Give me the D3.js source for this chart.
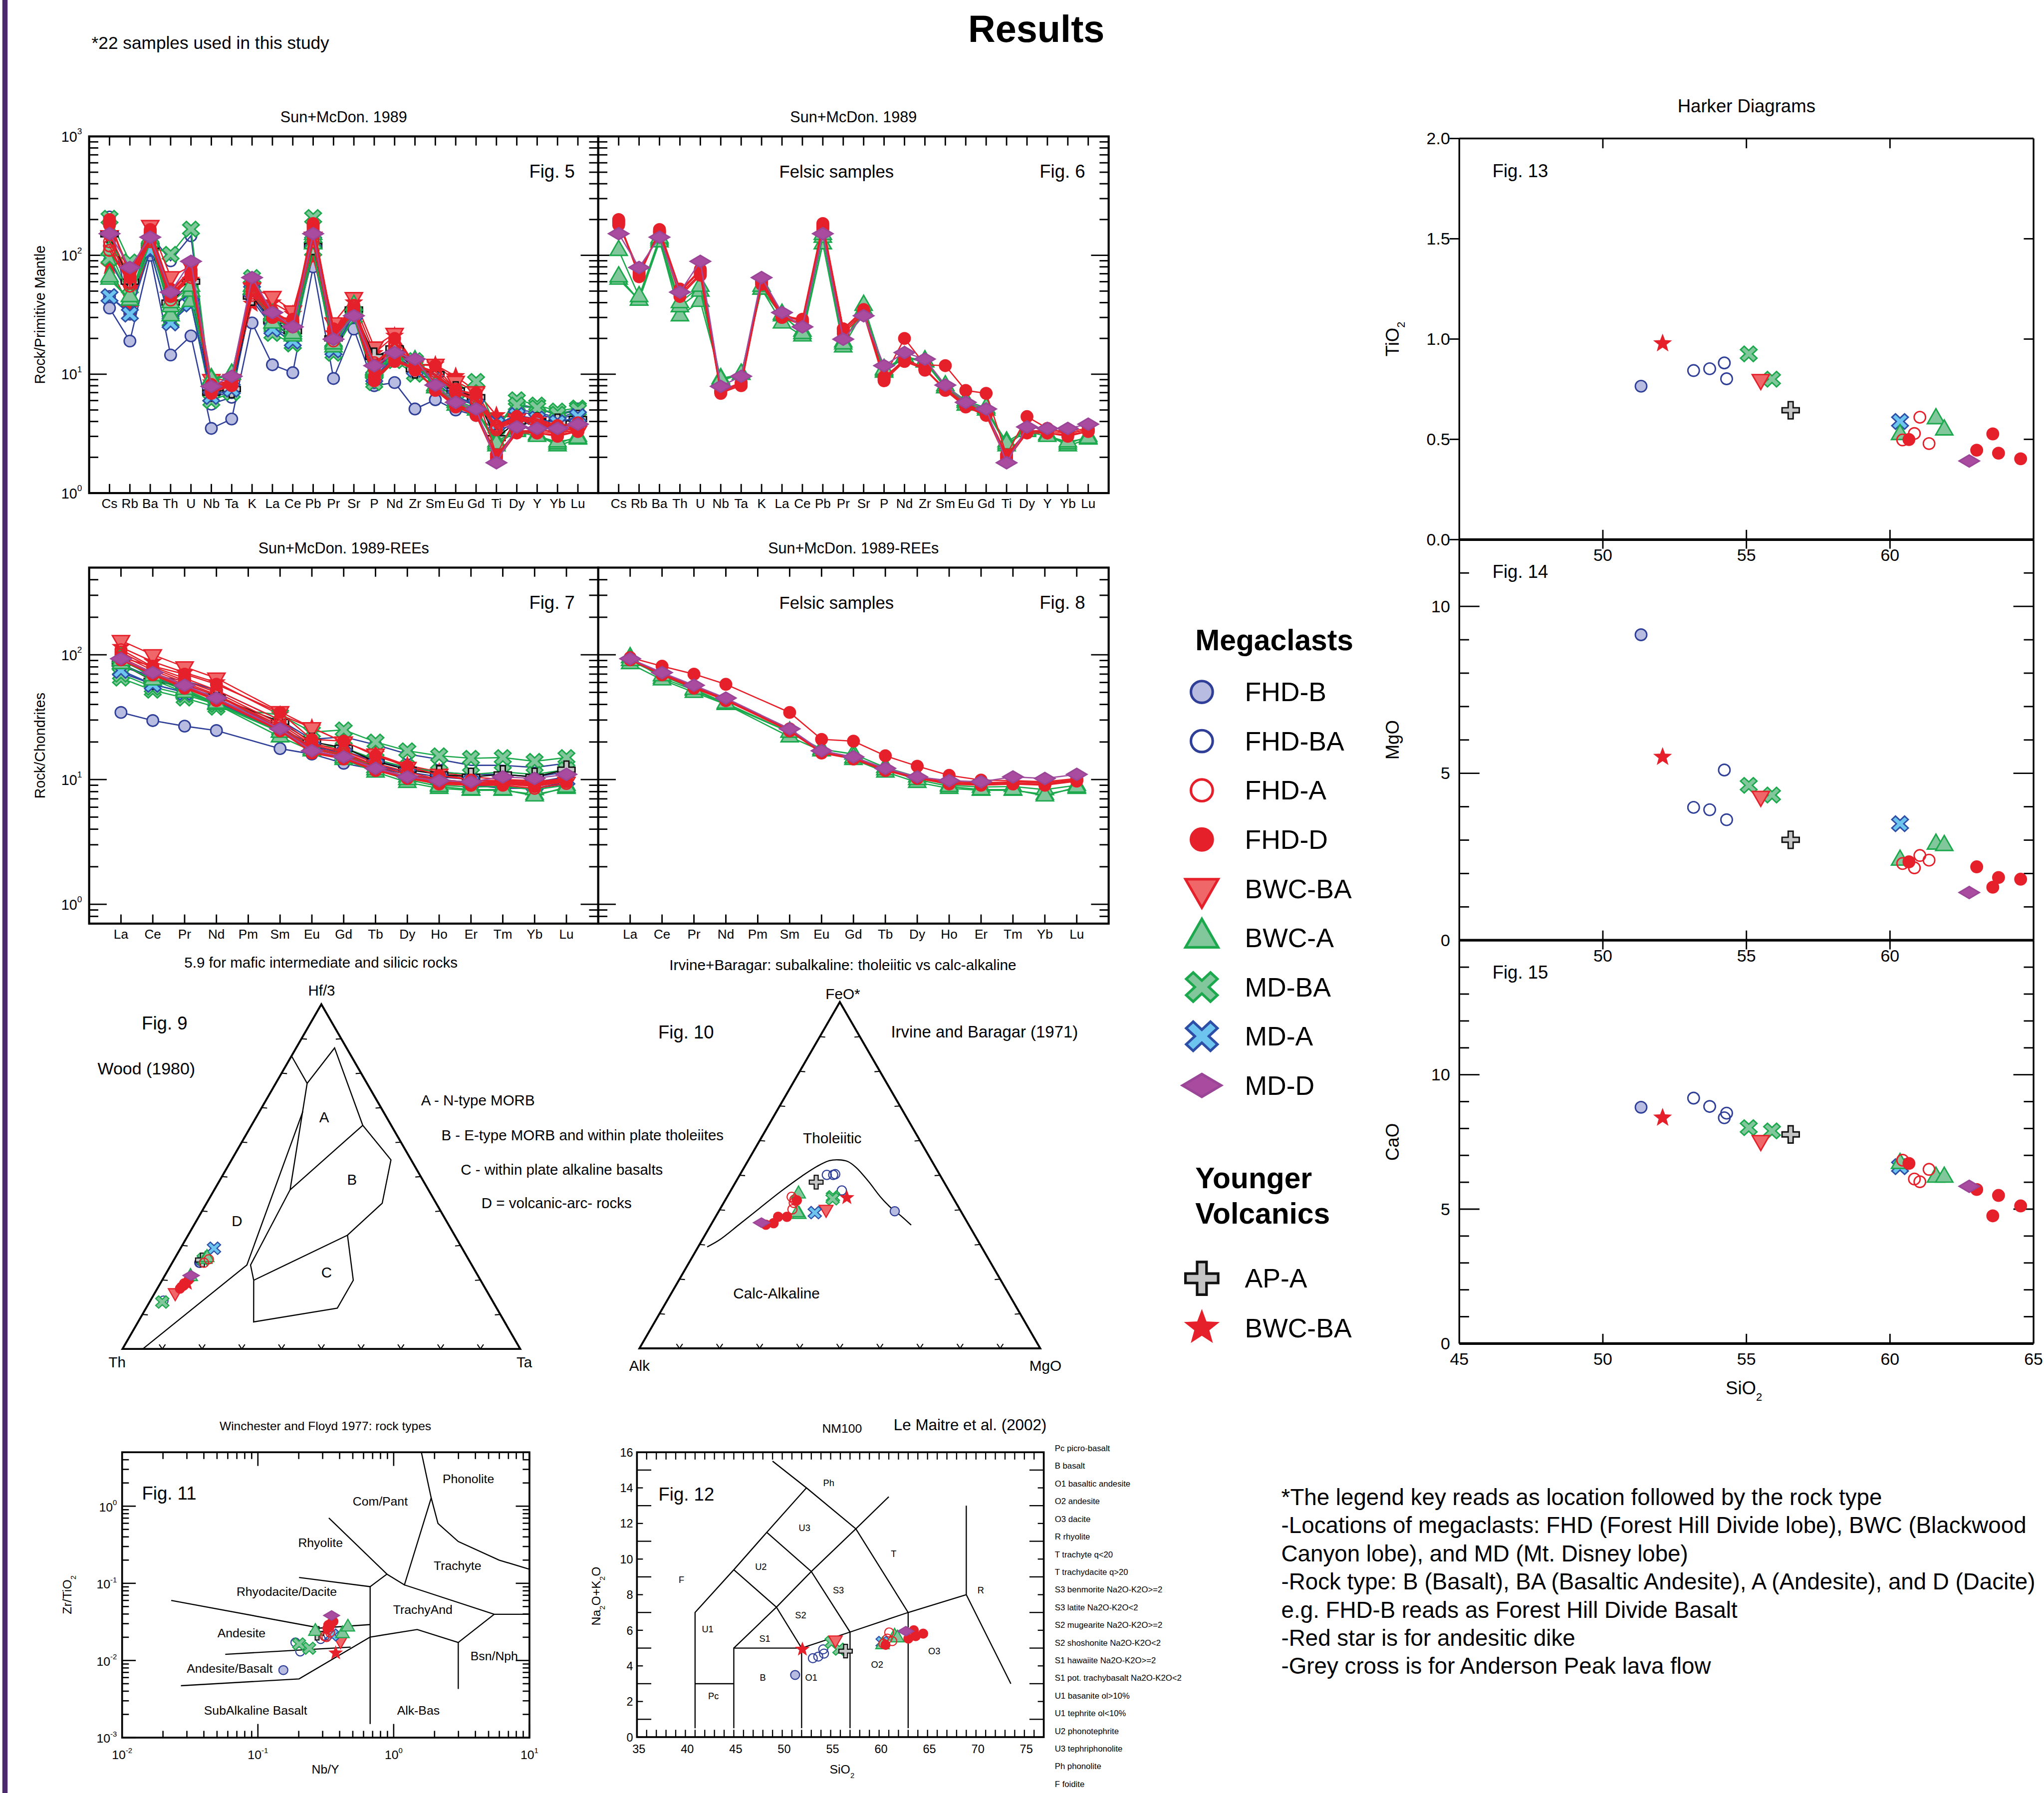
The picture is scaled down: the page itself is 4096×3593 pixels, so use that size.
<!DOCTYPE html>
<html>
<head>
<meta charset="utf-8">
<script src="https://cdn.jsdelivr.net/npm/d3@7"></script>
<style>
  html, body { margin: 0; padding: 0; background: #fff; }
  svg { display: block; }
  text { font-family: "Liberation Sans", Arial, Helvetica, sans-serif; fill: #000; }
</style>
</head>
<body>
<div id="poster"></div>
<script>
// ---------------- data ----------------
// one entry per sample (22 megaclasts + 2 younger volcanics)
const sampleType = ["FHD-B", "FHD-BA", "FHD-BA", "FHD-BA", "FHD-BA", "YV-BWC-BA", "MD-BA", "MD-BA",
  "BWC-BA", "AP-A", "MD-A", "BWC-A", "BWC-A", "BWC-A", "FHD-A", "FHD-A", "FHD-A", "FHD-A",
  "FHD-D", "FHD-D", "FHD-D", "FHD-D", "FHD-D", "MD-D"];

const sio2 = [51.33, 53.16, 53.72, 54.23, 54.31, 52.08, 55.08, 55.89, 55.5, 56.54, 60.35, 60.35, 61.6, 61.89,
  60.44, 60.85, 61.04, 61.36, 60.66, 63.02, 63.58, 63.78, 64.55, 62.76];
const tio2 = [0.765, 0.843, 0.852, 0.881, 0.802, 0.978, 0.926, 0.80, 0.798, 0.645, 0.589, 0.524, 0.603, 0.547,
  0.497, 0.529, 0.61, 0.479, 0.499, 0.446, 0.527, 0.431, 0.403, 0.392];
const mgo = [9.15, 3.98, 3.91, 5.10, 3.61, 5.49, 4.64, 4.35, 4.31, 3.01, 3.49, 2.40, 2.88, 2.84,
  2.30, 2.17, 2.54, 2.40, 2.35, 2.20, 1.59, 1.88, 1.83, 1.43];
const cao = [8.79, 9.13, 8.82, 8.40, 8.57, 8.40, 8.03, 7.91, 7.55, 7.78, 6.58, 6.70, 6.19, 6.19,
  6.82, 6.12, 6.02, 6.48, 6.70, 5.73, 4.75, 5.51, 5.12, 5.85];
const naK = [3.49, 4.43, 4.52, 4.93, 4.69, 4.93, 5.32, 4.94, 5.46, 4.83, 5.32, 5.18, 5.67, 5.57,
  5.25, 5.53, 5.88, 5.39, 5.18, 5.53, 6.0, 5.67, 5.81, 5.95];
const nbY = [0.154, 0.189, 0.205, 0.31, 0.29, 0.374, 0.201, 0.239, 0.406, 0.273, 0.352, 0.265, 0.42, 0.46,
  0.32, 0.33, 0.31, 0.34, 0.347, 0.33, 0.325, 0.36, 0.34, 0.349];
const zrTi = [0.0075, 0.0171, 0.0131, 0.021, 0.019, 0.0125, 0.0164, 0.0144, 0.018, 0.0225, 0.0214, 0.0238, 0.0222, 0.0271,
  0.0201, 0.0249, 0.0205, 0.023, 0.0306, 0.0288, 0.0262, 0.032, 0.028, 0.0383];
// Wood (1980) fractions: Hf/3 and Ta (Th = remainder)
const hfFrac = [0.25, 0.14, 0.255, 0.26, 0.25, 0.19, 0.136, 0.26, 0.163, 0.258, 0.292, 0.26, 0.265, 0.21,
  0.26, 0.25, 0.185, 0.19, 0.183, 0.18, 0.19, 0.175, 0.2, 0.213];
const taFrac = [0.07, 0.033, 0.069, 0.072, 0.068, 0.068, 0.032, 0.074, 0.051, 0.072, 0.084, 0.078, 0.08, 0.066,
  0.087, 0.08, 0.062, 0.06, 0.061, 0.058, 0.064, 0.057, 0.066, 0.066];
// AFM fractions: FeO* and MgO (Alk = remainder)
const afmFeO = [0.396, 0.501, 0.501, 0.503, 0.456, 0.435, 0.4375, 0.432, 0.4015, 0.48, 0.392, 0.4458, 0.387, 0.392,
  0.4375, 0.4296, 0.4015, 0.42, 0.4274, 0.38, 0.38, 0.3615, 0.357, 0.363];
const afmMgO = [0.439, 0.217, 0.233, 0.237, 0.277, 0.30, 0.264, 0.266, 0.265, 0.201, 0.2415, 0.174, 0.205, 0.198,
  0.161, 0.172, 0.181, 0.175, 0.179, 0.178, 0.156, 0.154, 0.137, 0.123];

const spiderElems = ["Cs", "Rb", "Ba", "Th", "U", "Nb", "Ta", "K", "La", "Ce", "Pb", "Pr", "Sr", "P", "Nd", "Zr", "Sm", "Eu", "Gd", "Ti", "Dy", "Y", "Yb", "Lu"];
const spiderVals = [
  [36, 19, 100, 14.5, 21, 3.5, 4.2, 27, 12, 10.3, 80, 9.2, 24, 8, 8.5, 5.1, 6.1, 5.0, 4.5, 3.3, 3.9, 3.8, 3.6, 3.8],
  [210, 32, 150, 90, 146, 5.6, 6.4, 45, 26, 21, 100, 17, 30, 8.5, 14, 10.5, 8.6, 6.2, 5.5, 3.6, 5.6, 5.2, 4.5, 5.0],
  [45, 33, 110, 28, 42, 6.5, 7.0, 42, 25, 20, 105, 17, 30, 10, 14.5, 11, 9, 6.5, 5.6, 3.8, 5.4, 5.2, 4.6, 5.1],
  [90, 45, 120, 35, 50, 7.0, 7.5, 45, 28, 22, 110, 18, 32, 11, 15, 11.5, 9.5, 7.0, 6.0, 4.0, 5.0, 4.8, 4.3, 4.8],
  [120, 55, 130, 40, 60, 7.5, 8.0, 50, 30, 24, 120, 19, 34, 12, 16, 12, 10, 7.0, 6.2, 4.1, 4.8, 4.6, 4.2, 4.6],
  [81, 36, 115, 46, 62, 8.5, 8.5, 39, 40, 32, 95, 22, 40, 15, 21, 12, 12, 9.6, 7.2, 4.5, 4.3, 4.0, 3.5, 3.5],
  [205, 88, 120, 102, 166, 6.5, 7.5, 65, 25, 18, 208, 16, 30, 9, 14, 13, 9, 7.0, 8.7, 3.5, 6.1, 5.5, 4.9, 5.2],
  [95, 45, 110, 28, 40, 6.0, 7.0, 55, 22, 18, 110, 15, 30, 8.5, 13, 10, 8, 6.5, 5.5, 3.6, 5.5, 5.2, 4.6, 5.0],
  [146, 54, 178, 66, 81, 9.0, 9.0, 53, 45, 34, 142, 27, 44, 16.9, 22, 12, 12.1, 8.7, 7.1, 3.7, 4.2, 3.9, 3.3, 3.3],
  [150, 60, 120, 40, 60, 7.0, 7.5, 45, 28, 23, 120, 20, 35, 14, 16.5, 11, 10, 7.3, 6.4, 2.9, 4.0, 4.0, 3.9, 4.2],
  [45, 32, 110, 27, 39, 6.5, 7.5, 50, 24, 19, 130, 16, 32, 9.5, 14, 11, 9, 6.5, 5.5, 3.8, 4.5, 4.2, 3.9, 4.4],
  [63, 42, 135, 31, 41, 9.2, 10, 52, 27, 21, 125, 17, 34, 10.4, 13.8, 12.7, 7.7, 5.8, 5.0, 2.5, 3.4, 3.1, 2.5, 2.85],
  [66, 42, 130, 37, 50, 8.8, 10, 52, 31, 23, 142, 18.7, 35, 10.7, 14, 12.7, 7.7, 5.5, 5.0, 2.7, 3.4, 3.1, 2.6, 3.0],
  [110, 45, 140, 40, 55, 9.0, 10, 55, 32, 22, 150, 18, 38, 11, 14, 13, 8, 6.0, 5.2, 2.6, 3.3, 3.0, 2.7, 2.9],
  [130, 60, 140, 45, 70, 8.0, 8.5, 48, 32, 26, 150, 20, 36, 12, 17, 12, 10, 7.2, 6.2, 3.6, 4.3, 4.1, 3.6, 3.8],
  [120, 55, 135, 50, 75, 8.0, 8.5, 50, 33, 27, 160, 21, 38, 12.5, 17, 12.5, 10, 7.0, 6.0, 3.5, 4.2, 4.0, 3.5, 3.7],
  [150, 65, 145, 48, 65, 8.2, 8.8, 52, 34, 27, 140, 21, 37, 11.5, 18, 12, 10.5, 7.5, 6.5, 3.7, 4.4, 4.2, 3.7, 3.9],
  [110, 58, 130, 42, 68, 7.8, 8.3, 46, 30, 25, 130, 19, 35, 11, 16, 11.5, 9.7, 7.0, 6.0, 3.4, 4.1, 3.9, 3.4, 3.6],
  [195, 70, 160, 49, 74, 7.1, 8.3, 60, 31, 28, 175, 24, 34, 9.2, 13, 11, 7.5, 5.5, 4.7, 2.0, 3.3, 3.3, 3.2, 3.4],
  [185, 72, 155, 47, 70, 7.0, 8.0, 58, 30, 27, 170, 23, 33, 9.0, 13.5, 11.2, 7.4, 5.4, 4.6, 2.0, 3.4, 3.2, 3.1, 3.3],
  [190, 68, 158, 50, 76, 7.2, 8.4, 62, 32, 28, 180, 24, 35, 9.4, 13.2, 10.8, 7.6, 5.6, 4.8, 2.1, 3.3, 3.4, 3.3, 3.5],
  [200, 66, 165, 52, 72, 7.3, 8.5, 61, 31, 29, 185, 24, 34, 9.5, 20, 12, 11.8, 7.3, 6.9, 2.1, 4.4, 3.5, 3.2, 3.4],
  [180, 75, 150, 45, 68, 6.9, 8.1, 57, 30, 26, 165, 22, 32, 8.8, 12.8, 11, 7.3, 5.3, 4.5, 1.9, 3.2, 3.2, 3.0, 3.3],
  [152, 79, 142, 49, 89, 7.9, 9.6, 65, 33, 25, 152, 19.7, 31, 11.8, 15.2, 13.4, 8.1, 5.8, 5.1, 1.8, 3.6, 3.5, 3.5, 3.8]
];

const reeElems = ["La", "Ce", "Pr", "Nd", "Pm", "Sm", "Eu", "Gd", "Tb", "Dy", "Ho", "Er", "Tm", "Yb", "Lu"];
const reeVals = [
  [34.5, 29.7, 26.8, 24.7, null, 17.7, 16, 13.5, 12, 10.5, 9.6, 9, 8.7, 8.5, 9.2],
  [80, 68, 62, 52, null, 30, 21, 22, 19, 16, 14.5, 13, 13, 12.5, 13.5],
  [72, 58, 50, 42, null, 25, 18, 17, 14, 12.5, 11.5, 11, 11, 10.5, 11.5],
  [85, 65, 55, 45, null, 26, 19, 16, 13, 11.5, 10.5, 10, 9.5, 9.5, 10.5],
  [90, 70, 58, 47, null, 27, 18, 15.5, 12.5, 11, 9.5, 9, 8.5, 8.5, 9.5],
  [115, 88, 72, 60, null, 33, 26, 20, 16, 13, 11.5, 10.5, 10, 9.8, 9.8],
  [65, 52, 45, 38, null, 33, 24, 25, 20, 17, 15.5, 14.8, 15, 14, 15],
  [70, 55, 48, 40, null, 25, 19, 18, 14.5, 12.5, 11.5, 11, 11.5, 11, 12],
  [130, 100, 80, 65, null, 35, 26, 20, 16, 12.5, 11, 10, 9.5, 9, 9.5],
  [85, 62, 55, 46, null, 29, 20, 18, 14, 12, 11, 10.5, 11, 10.5, 12],
  [75, 58, 50, 42, null, 24, 18, 16, 13, 11, 10, 9.5, 9.5, 9, 10],
  [95, 65, 52, 40, null, 22, 17, 14.5, 11.5, 9.5, 8.5, 8.2, 8.2, 7.6, 8.5],
  [85, 63, 50, 40, null, 24, 17.5, 16, 12.5, 10.5, 9, 8.7, 8.8, 8.3, 9],
  [90, 68, 53, 41, null, 24, 17, 15, 12, 10, 8.8, 8.3, 8.3, 7.4, 8.7],
  [100, 75, 60, 48, null, 27, 18, 16, 13, 11, 9.5, 9.2, 9.2, 8.8, 9.6],
  [105, 78, 62, 50, null, 28, 19, 16.5, 13, 11, 9.8, 9.3, 9.3, 9, 9.7],
  [110, 80, 65, 52, null, 30, 19.5, 17, 13.5, 11.5, 10, 9.5, 9.5, 9.2, 10],
  [95, 72, 58, 47, null, 26, 17.5, 15.5, 12.5, 10.5, 9.2, 9, 9, 8.5, 9.3],
  [92, 70, 55, 43, null, 25, 16.5, 14.8, 12, 10.3, 9.3, 9.1, 9.3, 9.2, 9.8],
  [93, 71, 56, 44, null, 25.5, 16.8, 15, 12.2, 10.4, 9.4, 9.2, 9.4, 9.1, 9.9],
  [91, 69, 54, 43, null, 24.5, 16.3, 14.6, 11.8, 10.2, 9.2, 9.0, 9.2, 9.0, 9.7],
  [95, 81, 70, 58, null, 34.5, 21, 20.3, 15.5, 12.8, 10.8, 9.9, 9.8, 9.6, 10.2],
  [92, 70, 55, 44, null, 25, 16.6, 14.9, 12.1, 10.3, 9.6, 9.4, 9.6, 9.4, 10],
  [93, 72, 57, 45, null, 25.5, 17, 15.2, 12.3, 10.5, 9.8, 9.6, 10.5, 10.2, 11]
];

const felsicTypes = ["BWC-A", "FHD-D", "MD-D"];

// Wood (1980) field boundaries, [Hf/3, Ta] fractions
const woodFields = [
  [[0, 0.051], [0.2435, 0.191], [0.689, 0.109]],
  [[0.849, 0.001], [0.7705, 0.079]],
  [[0.7705, 0.079], [0.8733, 0.0966], [0.6488, 0.2797]],
  [[0.7705, 0.079], [0.4616, 0.1906]],
  [[0.6488, 0.2797], [0.4616, 0.1906]],
  [[0.6488, 0.2797], [0.5486, 0.4007], [0.4227, 0.4417], [0.33, 0.4007]],
  [[0.33, 0.4007], [0.1992, 0.2303]],
  [[0.4616, 0.1906], [0.2435, 0.2002], [0.1992, 0.2303]],
  [[0.1992, 0.2303], [0.0783, 0.2906], [0.1183, 0.481], [0.1992, 0.4807], [0.33, 0.4007]]
];
const woodFieldLabels = [["A", 0.672, 0.171], ["B", 0.492, 0.331], ["C", 0.222, 0.402], ["D", 0.372, 0.102]];
const woodKey = ["A - N-type MORB", "B - E-type MORB and within plate tholeiites",
  "C - within plate alkaline basalts", "D = volcanic-arc- rocks"];

// Irvine & Baragar dividing curve, [FeO*, MgO] fractions
const afmCurve = [[0.293, 0.0225], [0.313, 0.0429], [0.357, 0.0696], [0.4056, 0.0979], [0.4537, 0.1265],
  [0.498, 0.157], [0.526, 0.1808], [0.542, 0.2026], [0.5444, 0.2243], [0.54, 0.249], [0.522, 0.28],
  [0.482, 0.3306], [0.4375, 0.3826], [0.4056, 0.425], [0.3815, 0.463], [0.356, 0.50]];

// Winchester & Floyd (1977) boundaries, [Nb/Y, Zr/TiO2]
const wfLines = [
  [[0.333, 0.704], [0.892, 0.1316], [0.671, 0.0905], [0.671, 0.0015]],
  [[0.892, 0.1316], [1.2, 0.0954], [1.89, 1.28]],
  [[1.2, 0.0954], [5.5, 0.0397], [10, 0.0397]],
  [[1.6, 5.0], [1.89, 1.28], [2.12, 0.597], [2.99, 0.348], [5.98, 0.2], [10, 0.152]],
  [[0.201, 0.119], [0.671, 0.0905]],
  [[0.023, 0.06], [0.288, 0.0263], [0.671, 0.0292]],
  [[0.671, 0.0201], [1.49, 0.0252], [2.99, 0.0171], [2.99, 0.00427]],
  [[2.99, 0.0171], [5.5, 0.0397]],
  [[0.0575, 0.012], [0.482, 0.0149]],
  [[0.0271, 0.00471], [0.201, 0.00577], [0.671, 0.0201]]
];
const wfLabels = [["Phonolite", 3.55, 2.28], ["Com/Pant", 0.796, 1.15], ["Rhyolite", 0.289, 0.337], ["Trachyte", 2.95, 0.169],
  ["Rhyodacite/Dacite", 0.163, 0.0784], ["TrachyAnd", 1.64, 0.0454], ["Andesite", 0.0757, 0.0228],
  ["Bsn/Nph", 5.5, 0.01138], ["Andesite/Basalt", 0.062, 0.00783], ["SubAlkaline Basalt", 0.0962, 0.00227],
  ["Alk-Bas", 1.52, 0.00227]];

// TAS (Le Maitre et al. 2002) boundaries, [SiO2, Na2O+K2O]
const tasLines = [
  [[41, 0.5], [41, 7], [45, 9.4], [48.4, 11.5], [52.5, 14]],
  [[41, 3], [45, 3]],
  [[45, 0.5], [45, 5], [52, 5], [57, 5.9], [63, 7], [69, 8]],
  [[52, 0.5], [52, 5]], [[57, 0.5], [57, 5.9]], [[63, 0.5], [63, 7]],
  [[69, 8], [69, 13]], [[69, 8], [73.6, 3]],
  [[45, 5], [49.4, 7.3], [53, 9.3], [57.6, 11.7], [61, 13.5]],
  [[49.4, 7.3], [52, 5]], [[53, 9.3], [57, 5.9]], [[57.6, 11.7], [63, 7]],
  [[45, 9.4], [49.4, 7.3]], [[48.4, 11.5], [53, 9.3]],
  [[49, 15.5], [52.5, 14], [57.6, 11.7]]
];
const tasLabels = [["Ph", 54.8, 14.28], ["U3", 52.3, 11.75], ["T", 61.5, 10.3], ["U2", 47.8, 9.57], ["F", 39.6, 8.84],
  ["R", 70.5, 8.25], ["S3", 55.8, 8.25], ["S2", 51.9, 6.84], ["U1", 42.3, 6.07], ["S1", 48.2, 5.53],
  ["O3", 65.7, 4.83], ["O2", 59.8, 4.08], ["B", 48.0, 3.35], ["O1", 53.0, 3.35], ["Pc", 42.9, 2.32]];
const tasKey = ["Pc picro-basalt", "B  basalt", "O1 basaltic andesite", "O2 andesite", "O3 dacite", "R  rhyolite",
  "T  trachyte q<20", "T  trachydacite q>20", "S3 benmorite Na2O-K2O>=2", "S3 latite Na2O-K2O<2",
  "S2 mugearite Na2O-K2O>=2", "S2 shoshonite Na2O-K2O<2", "S1 hawaiite Na2O-K2O>=2",
  "S1 pot. trachybasalt Na2O-K2O<2", "U1 basanite ol>10%", "U1 tephrite ol<10%", "U2 phonotephrite",
  "U3 tephriphonolite", "Ph phonolite", "F  foidite"];

const megaclastKeys = ["FHD-B", "FHD-BA", "FHD-A", "FHD-D", "BWC-BA", "BWC-A", "MD-BA", "MD-A", "MD-D"];
const youngerKeys = ["AP-A", "YV-BWC-BA"];
const youngerNames = ["AP-A", "BWC-BA"];

const notes = ["*The legend key reads as location followed by the rock type",
  "-Locations of megaclasts: FHD (Forest Hill Divide lobe), BWC (Blackwood",
  "Canyon lobe), and MD (Mt. Disney lobe)",
  "-Rock type: B (Basalt), BA (Basaltic Andesite), A (Andesite), and D (Dacite)",
  "e.g. FHD-B reads as Forest Hill Divide Basalt",
  "-Red star is for andesitic dike",
  "-Grey cross is for Anderson Peak lava flow"];

// ---------------- styles ----------------
const RED = "#e6202a", BLUE = "#2f3f97", GREEN = "#1ca84c", PURPLE = "#a04b9d";
const styles = {
  "FHD-B":  { shape: "circle", fill: "#b9bce1", stroke: BLUE, line: BLUE },
  "FHD-BA": { shape: "circle", fill: "none", stroke: BLUE, line: BLUE },
  "FHD-A":  { shape: "circle", fill: "none", stroke: RED, line: RED },
  "FHD-D":  { shape: "circle", fill: RED, stroke: RED, line: RED },
  "BWC-BA": { shape: "tridown", fill: "#f0676a", stroke: RED, line: RED },
  "BWC-A":  { shape: "triup", fill: "#82c79b", stroke: GREEN, line: GREEN },
  "MD-BA":  { shape: "xmark", fill: "#82c79b", stroke: GREEN, line: GREEN },
  "MD-A":   { shape: "xmark", fill: "#6dc4ee", stroke: "#2d4ea6", line: "#2d4ea6" },
  "MD-D":   { shape: "diamond", fill: "#a94c9f", stroke: "#9a4597", line: PURPLE },
  "AP-A":   { shape: "plus", fill: "#c4c4c4", stroke: "#111", line: "#111" },
  "YV-BWC-BA": { shape: "star", fill: RED, stroke: "none", line: RED }
};

function polyPath(pts) { return "M" + pts.map(p => p[0].toFixed(2) + "," + p[1].toFixed(2)).join("L") + "Z"; }

function shapePath(shape, s) {
  if (shape === "circle") return d3.symbol(d3.symbolCircle, Math.PI * Math.pow(4.4 * s, 2))();
  if (shape === "triup" || shape === "tridown") {
    const w = 6.6 * s, h = 11.5 * s, k = shape === "triup" ? 1 : -1;
    return polyPath([[0, -k * h * 2 / 3], [w, k * h / 3], [-w, k * h / 3]]);
  }
  if (shape === "diamond") {
    const w = 7.8 * s, h = 4.6 * s;
    return polyPath([[-w, 0], [0, -h], [w, 0], [0, h]]);
  }
  if (shape === "xmark" || shape === "plus") {
    const L = 6.6 * s, t = 1.9 * s;
    let pts = [[-t, -L], [t, -L], [t, -t], [L, -t], [L, t], [t, t], [t, L], [-t, L], [-t, t], [-L, t], [-L, -t], [-t, -t]];
    if (shape === "xmark") {
      const c = Math.SQRT1_2;
      pts = pts.map(p => [(p[0] - p[1]) * c * 1.05, (p[0] + p[1]) * c * 0.98]);
    }
    return polyPath(pts);
  }
  if (shape === "star") {
    const R = 7.6 * s, r = R * 0.42;
    return polyPath(d3.range(10).map(i => {
      const a = -Math.PI / 2 + i * Math.PI / 5, rr = i % 2 ? r : R;
      return [rr * Math.cos(a), rr * Math.sin(a)];
    }));
  }
}

function drawMarkers(g, type, pts, s) {
  const st = styles[type];
  g.append("g").selectAll("path").data(pts).join("path")
    .attr("d", shapePath(st.shape, s))
    .attr("transform", d => `translate(${d[0]},${d[1]})`)
    .attr("fill", st.fill)
    .attr("stroke", st.stroke)
    .attr("stroke-width", 1.1 * Math.min(s, 1.8));
}

// ---------------- canvas ----------------
const W = 1568, H = 1376;
const svg = d3.select("#poster").append("svg")
  .attr("width", 4096).attr("height", 3593)
  .attr("viewBox", `0 0 ${W} ${H}`);
svg.append("rect").attr("width", W).attr("height", H).attr("fill", "#fff");
svg.append("rect").attr("x", 1.5).attr("y", 0).attr("width", 4).attr("height", H).attr("fill", "#4b2a6e");

function label(g, x, y, str, size, anchor, extra) {
  const t = g.append("text").attr("x", x).attr("y", y).attr("font-size", size)
    .attr("text-anchor", anchor || "start").text(str);
  if (extra === "bold") t.attr("font-weight", "bold");
  if (extra === "rot") t.attr("transform", `rotate(-90,${x},${y})`);
  return t;
}
function powLabel(g, x, y, exp, size, anchor) {
  const t = g.append("text").attr("x", x).attr("y", y).attr("font-size", size).attr("text-anchor", anchor);
  t.append("tspan").text("10");
  t.append("tspan").attr("dy", -size * 0.5).attr("font-size", size * 0.6).text(exp);
}
function subLabel(g, x, y, parts, size, anchor, rot) {
  // parts: [text, isSub] pairs
  const t = g.append("text").attr("x", x).attr("y", y).attr("font-size", size).attr("text-anchor", anchor || "middle");
  if (rot) t.attr("transform", `rotate(-90,${x},${y})`);
  let shifted = false;
  parts.forEach(([str, sub]) => {
    const ts = t.append("tspan").text(str);
    if (sub && !shifted) { ts.attr("dy", size * 0.35).attr("font-size", size * 0.6); shifted = true; }
    else if (sub) { ts.attr("font-size", size * 0.6); }
    else if (shifted) { ts.attr("dy", -size * 0.35); shifted = false; }
  });
  return t;
}

// ---------------- headings ----------------
label(svg, 795, 32, "Results", 29, "middle", "bold");
label(svg, 70, 37.5, "*22 samples used in this study", 13.5, "start");

// ---------------- spider diagrams ----------------
function spider(cfg) {
  const g = svg.append("g");
  const x = d3.scalePoint().domain(cfg.elems).range([cfg.x0, cfg.x1]).padding(1);
  const y = d3.scaleLog().domain(cfg.domain).range([cfg.y1, cfg.y0]);
  const lo = Math.floor(Math.log10(cfg.domain[0])), hi = Math.ceil(Math.log10(cfg.domain[1]));
  const yt = [];
  for (let e = lo; e <= hi; e++) for (let k = 1; k <= 9; k++) {
    const v = k * Math.pow(10, e);
    if (v >= cfg.domain[0] * 0.999 && v <= cfg.domain[1] * 1.001) yt.push({ v, major: k === 1, e });
  }
  const tickG = g.append("g").attr("stroke", "#000").attr("stroke-width", 1.1);
  tickG.selectAll(".l").data(yt).join("line")
    .attr("x1", cfg.x0).attr("x2", d => cfg.x0 + (d.major ? 13.5 : 7))
    .attr("y1", d => y(d.v)).attr("y2", d => y(d.v));
  tickG.selectAll(".r").data(yt).join("line")
    .attr("x1", cfg.x1).attr("x2", d => cfg.x1 - (d.major ? 13.5 : 7))
    .attr("y1", d => y(d.v)).attr("y2", d => y(d.v));
  tickG.selectAll(".t").data(cfg.elems).join("line")
    .attr("x1", d => x(d)).attr("x2", d => x(d)).attr("y1", cfg.y0).attr("y2", cfg.y0 + 7);
  tickG.selectAll(".b").data(cfg.elems).join("line")
    .attr("x1", d => x(d)).attr("x2", d => x(d)).attr("y1", cfg.y1).attr("y2", cfg.y1 - 7);

  const line = d3.line().x(d => x(d[0])).y(d => y(d[1]));
  cfg.samples.forEach(si => {
    const pts = cfg.elems.map((e, i) => [e, cfg.vals[si][i]]).filter(p => p[1] != null);
    g.append("path").attr("d", line(pts)).attr("fill", "none")
      .attr("stroke", styles[sampleType[si]].line).attr("stroke-width", 1);
    drawMarkers(g, sampleType[si], pts.map(p => [x(p[0]), y(p[1])]), 1);
  });

  g.append("rect").attr("x", cfg.x0).attr("y", cfg.y0).attr("width", cfg.x1 - cfg.x0).attr("height", cfg.y1 - cfg.y0)
    .attr("fill", "none").attr("stroke", "#000").attr("stroke-width", 1.6);

  g.selectAll(".el").data(cfg.elems).join("text")
    .attr("x", d => x(d)).attr("y", cfg.y1 + 11.5).attr("font-size", 10).attr("text-anchor", "middle").text(d => d);
  if (cfg.leftLabels) {
    yt.filter(d => d.major).forEach(d => powLabel(g, cfg.x0 - 5.5, y(d.v) + 4, String(d.e), 11, "end"));
    label(g, 34, (cfg.y0 + cfg.y1) / 2, cfg.yTitle, 11, "middle", "rot");
  }
  label(g, (cfg.x0 + cfg.x1) / 2, cfg.y0 - 11, cfg.title, 11.7, "middle");
  label(g, cfg.x1 - 18, cfg.y0 + 31.5, cfg.fig, 14, "end");
  if (cfg.note) label(g, (cfg.x0 + cfg.x1) / 2 - 13, cfg.y0 + 31.5, cfg.note, 13.3, "middle");
}

const allIdx = d3.range(sampleType.length);
const felsicIdx = allIdx.filter(i => felsicTypes.includes(sampleType[i]));

spider({ elems: spiderElems, vals: spiderVals, samples: allIdx, x0: 68.1, x1: 458.8, y0: 104.7, y1: 378.4,
  domain: [1, 1000], leftLabels: true, yTitle: "Rock/Primitive Mantle", title: "Sun+McDon. 1989", fig: "Fig. 5" });
spider({ elems: spiderElems, vals: spiderVals, samples: felsicIdx, x0: 458.8, x1: 850.5, y0: 104.7, y1: 378.4,
  domain: [1, 1000], title: "Sun+McDon. 1989", fig: "Fig. 6", note: "Felsic samples" });
spider({ elems: reeElems, vals: reeVals, samples: allIdx, x0: 68.1, x1: 458.8, y0: 435.6, y1: 708.8,
  domain: [0.7, 500], leftLabels: true, yTitle: "Rock/Chondrites", title: "Sun+McDon. 1989-REEs", fig: "Fig. 7" });
spider({ elems: reeElems, vals: reeVals, samples: felsicIdx, x0: 458.8, x1: 850.5, y0: 435.6, y1: 708.8,
  domain: [0.7, 500], title: "Sun+McDon. 1989-REEs", fig: "Fig. 8", note: "Felsic samples" });

// ---------------- ternary diagrams ----------------
function ternary(L, R, T) {
  const tx = d3.scaleLinear().domain([0, 1]).range([L[0], R[0]]);
  const ty = d3.scaleLinear().domain([0, 1]).range([L[1], T[1]]);
  return (top, right) => [tx(right + top / 2), ty(top)];
}
function ternaryFrame(g, proj) {
  g.append("path").attr("d", polyPath([proj(0, 0), proj(0, 1), proj(1, 0)]))
    .attr("fill", "none").attr("stroke", "#000").attr("stroke-width", 1.5);
  const tk = [];
  d3.range(1, 10).forEach(i => {
    const t = i / 10;
    tk.push({ p: proj(0, t), n: [0, -1] });
    tk.push({ p: proj(t, 1 - t), n: [-0.866, -0.5] });
    tk.push({ p: proj(1 - t, 0), n: [0.866, -0.5] });
  });
  const arm = (n, a, len) => [n[0] * Math.cos(a) - n[1] * Math.sin(a), n[0] * Math.sin(a) + n[1] * Math.cos(a)].map(v => v * len);
  g.append("g").selectAll("path").data(tk).join("path")
    .attr("d", d => {
      const a1 = arm(d.n, 0.6, 4.2), a2 = arm(d.n, -0.6, 4.2);
      return `M${d.p[0] + a1[0]},${d.p[1] + a1[1]}L${d.p[0]},${d.p[1]}L${d.p[0] + a2[0]},${d.p[1] + a2[1]}`;
    })
    .attr("fill", "none").attr("stroke", "#000").attr("stroke-width", 0.8);
}

// Fig 9 - Wood (1980)
{
  const g = svg.append("g");
  const proj = ternary([93.7, 1035.2], [398.9, 1035.2], [246.3, 770.7]);
  ternaryFrame(g, proj);
  const ln = d3.line().x(d => proj(d[0], d[1])[0]).y(d => proj(d[0], d[1])[1]);
  g.selectAll(".f").data(woodFields).join("path").attr("d", ln)
    .attr("fill", "none").attr("stroke", "#000").attr("stroke-width", 0.9);
  woodFieldLabels.forEach(([t, a, b]) => { const p = proj(a, b); label(g, p[0], p[1] + 4, t, 11.3, "middle"); });
  allIdx.forEach(i => drawMarkers(g, sampleType[i], [proj(hfFrac[i], taFrac[i])], 0.8));
  label(g, 246, 742.5, "5.9 for mafic intermediate and silicic rocks", 11.3, "middle");
  label(g, 246.5, 764, "Hf/3", 11.3, "middle");
  label(g, 89.6, 1049.5, "Th", 11.3, "middle");
  label(g, 402, 1049.5, "Ta", 11.3, "middle");
  label(g, 126, 790, "Fig. 9", 14, "middle");
  label(g, 112, 824.5, "Wood (1980)", 13, "middle");
  const kx = [322.8, 338.4, 353.3, 369.2], ky = [848.4, 875, 901.6, 927.3];
  woodKey.forEach((t, i) => label(g, kx[i], ky[i], t, 11.3, "start"));
}

// Fig 10 - AFM
{
  const g = svg.append("g");
  const proj = ternary([490.4, 1034.8], [798.0, 1034.8], [644.2, 769.0]);
  ternaryFrame(g, proj);
  const ln = d3.line().curve(d3.curveCatmullRom).x(d => proj(d[0], d[1])[0]).y(d => proj(d[0], d[1])[1]);
  g.append("path").attr("d", ln(afmCurve)).attr("fill", "none").attr("stroke", "#000").attr("stroke-width", 0.9);
  allIdx.forEach(i => drawMarkers(g, sampleType[i], [proj(afmFeO[i], afmMgO[i])], 0.8));
  label(g, 646.5, 744.6, "Irvine+Baragar: subalkaline: tholeiitic vs calc-alkaline", 11.4, "middle");
  label(g, 646.5, 766.6, "FeO*", 11.4, "middle");
  label(g, 490.4, 1052, "Alk", 11.4, "middle");
  label(g, 802, 1052, "MgO", 11.4, "middle");
  label(g, 526.2, 797, "Fig. 10", 14, "middle");
  label(g, 755.2, 796, "Irvine and Baragar (1971)", 12.6, "middle");
  label(g, 638.4, 877.2, "Tholeiitic", 11.4, "middle");
  label(g, 595.6, 996.5, "Calc-Alkaline", 11.4, "middle");
}

// ---------------- Fig 11 - Winchester & Floyd ----------------
{
  const g = svg.append("g");
  const x0 = 93.4, x1 = 406.0, y0 = 1114.5, y1 = 1333.5;
  const x = d3.scaleLog().domain([0.01, 10]).range([x0, x1]);
  const y = d3.scaleLog().domain([0.001, 5]).range([y1, y0]);
  const tg = g.append("g").attr("stroke", "#000").attr("stroke-width", 1);
  const xt = [], yt = [];
  for (let e = -2; e <= 1; e++) for (let k = 1; k <= 9; k++) {
    const v = k * Math.pow(10, e); if (v <= 10.001) xt.push({ v, major: k === 1, e });
  }
  for (let e = -3; e <= 0; e++) for (let k = 1; k <= 9; k++) {
    const v = k * Math.pow(10, e); if (v <= 5.001) yt.push({ v, major: k === 1, e });
  }
  tg.selectAll(".xb").data(xt).join("line").attr("x1", d => x(d.v)).attr("x2", d => x(d.v))
    .attr("y1", y1).attr("y2", d => y1 - (d.major ? 10.5 : 5.2));
  tg.selectAll(".xt").data(xt).join("line").attr("x1", d => x(d.v)).attr("x2", d => x(d.v))
    .attr("y1", y0).attr("y2", d => y0 + (d.major ? 10.5 : 5.2));
  tg.selectAll(".yl").data(yt).join("line").attr("y1", d => y(d.v)).attr("y2", d => y(d.v))
    .attr("x1", x0).attr("x2", d => x0 + (d.major ? 10.5 : 5.2));
  tg.selectAll(".yr").data(yt).join("line").attr("y1", d => y(d.v)).attr("y2", d => y(d.v))
    .attr("x1", x1).attr("x2", d => x1 - (d.major ? 10.5 : 5.2));
  const ln = d3.line().x(d => x(d[0])).y(d => y(d[1]));
  g.selectAll(".bd").data(wfLines).join("path").attr("d", ln)
    .attr("fill", "none").attr("stroke", "#000").attr("stroke-width", 0.9);
  g.append("rect").attr("x", x0).attr("y", y0).attr("width", x1 - x0).attr("height", y1 - y0)
    .attr("fill", "none").attr("stroke", "#000").attr("stroke-width", 1.4);
  wfLabels.forEach(([t, a, b]) => label(g, x(a), y(b) + 3.3, t, 9.5, "middle"));
  allIdx.forEach(i => drawMarkers(g, sampleType[i], [[x(nbY[i]), y(zrTi[i])]], 0.78));
  xt.filter(d => d.major).forEach(d => powLabel(g, x(d.v), 1350, String(d.e), 9.5, "middle"));
  yt.filter(d => d.major).forEach(d => powLabel(g, x0 - 4, y(d.v) + 4, String(d.e), 9.5, "end"));
  label(g, 249.4, 1097.5, "Winchester and Floyd 1977: rock types", 9.4, "middle");
  label(g, 129.5, 1151, "Fig. 11", 14, "middle");
  label(g, 249.4, 1361, "Nb/Y", 9.5, "middle");
  subLabel(g, 54.5, 1223.9, [["Zr/TiO", false], ["2", true]], 9.5, "middle", true);
}

// ---------------- Fig 12 - TAS ----------------
{
  const g = svg.append("g");
  const x0 = 488.5, x1 = 800.7, y0 = 1114.5, y1 = 1333.1;
  const x = d3.scaleLinear().domain([35, 77]).range([x0, x1]);
  const y = d3.scaleLinear().domain([0, 16]).range([y1, y0]);
  const tg = g.append("g").attr("stroke", "#000").attr("stroke-width", 0.9);
  const xt = d3.range(35, 78, 1), yt = d3.range(0, 17, 1);
  tg.selectAll(".xb").data(xt).join("line").attr("x1", d => x(d)).attr("x2", d => x(d)).attr("y1", y1).attr("y2", y1 - 5.6);
  tg.selectAll(".xt").data(xt).join("line").attr("x1", d => x(d)).attr("x2", d => x(d)).attr("y1", y0).attr("y2", y0 + 5.6);
  tg.selectAll(".yl").data(yt).join("line").attr("y1", d => y(d)).attr("y2", d => y(d))
    .attr("x1", x0).attr("x2", d => x0 + (d % 2 ? 11 : 4.6));
  tg.selectAll(".yr").data(yt).join("line").attr("y1", d => y(d)).attr("y2", d => y(d))
    .attr("x1", x1).attr("x2", d => x1 - (d % 2 ? 11 : 4.6));
  const ln = d3.line().x(d => x(d[0])).y(d => y(d[1]));
  g.selectAll(".bd").data(tasLines).join("path").attr("d", ln)
    .attr("fill", "none").attr("stroke", "#000").attr("stroke-width", 0.9);
  g.append("rect").attr("x", x0).attr("y", y0).attr("width", x1 - x0).attr("height", y1 - y0)
    .attr("fill", "none").attr("stroke", "#000").attr("stroke-width", 1.4);
  tasLabels.forEach(([t, a, b]) => label(g, x(a), y(b) + 2.5, t, 7, "middle"));
  allIdx.forEach(i => drawMarkers(g, sampleType[i], [[x(sio2[i]), y(naK[i])]], 0.78));
  d3.range(35, 80, 5).forEach(v => label(g, x(v) + 1.5, 1345.5, String(v), 9, "middle"));
  d3.range(0, 18, 2).forEach(v => label(g, x0 - 3, y(v) + 3.3, String(v), 9, "end"));
  label(g, 645.9, 1099.5, "NM100", 9.5, "middle");
  label(g, 744.2, 1097.5, "Le Maitre et al. (2002)", 12, "middle");
  label(g, 526.4, 1151.6, "Fig. 12", 14, "middle");
  subLabel(g, 645.9, 1361, [["SiO", false], ["2", true]], 9.5, "middle");
  subLabel(g, 460.5, 1224.9, [["Na", false], ["2", true], ["O+K", false], ["2", true], ["O", false]], 9.5, "middle", true);
  tasKey.forEach((t, i) => label(g, 809.2, 1113.7 + i * 13.56, t, 6.4, "start"));
}

// ---------------- Harker diagrams ----------------
const hx0 = 1119.6, hx1 = 1560.3;
const hx = d3.scaleLinear().domain([45, 65]).range([hx0, hx1]);
function harker(cfg) {
  const g = svg.append("g");
  const y = d3.scaleLinear().domain(cfg.domain).range([cfg.y1, cfg.y0]);
  const tg = g.append("g").attr("stroke", "#000").attr("stroke-width", 1.1);
  const yt = d3.range(cfg.domain[0], cfg.domain[1] + 1e-9, cfg.step);
  const isMajor = v => cfg.majors.some(m => Math.abs(m - v) < 1e-9);
  tg.selectAll(".yl").data(yt).join("line").attr("y1", d => y(d)).attr("y2", d => y(d))
    .attr("x1", d => cfg.outside ? hx0 - 7.5 : hx0)
    .attr("x2", d => cfg.outside ? hx0 : hx0 + (isMajor(d) ? 15.5 : 7.5));
  tg.selectAll(".yr").data(yt).join("line").attr("y1", d => y(d)).attr("y2", d => y(d))
    .attr("x1", hx1).attr("x2", d => hx1 - (isMajor(d) ? (cfg.outside ? 7.5 : 15.5) : 7.5));
  const xt = [50, 55, 60];
  tg.selectAll(".xb").data(xt).join("line").attr("x1", d => hx(d)).attr("x2", d => hx(d))
    .attr("y1", cfg.y1 - 7.5).attr("y2", cfg.last ? cfg.y1 : cfg.y1 + 7);
  if (cfg.top) {
    tg.selectAll(".xt").data(xt).join("line").attr("x1", d => hx(d)).attr("x2", d => hx(d))
      .attr("y1", cfg.y0).attr("y2", cfg.y0 + 7.5);
    g.append("line").attr("x1", hx0).attr("x2", hx1).attr("y1", cfg.y0).attr("y2", cfg.y0)
      .attr("stroke", "#000").attr("stroke-width", 1.3);
  }
  g.append("line").attr("x1", hx0).attr("x2", hx1).attr("y1", cfg.y1).attr("y2", cfg.y1)
    .attr("stroke", "#000").attr("stroke-width", 2);
  [hx0, hx1].forEach(xx => g.append("line").attr("x1", xx).attr("x2", xx).attr("y1", cfg.y0).attr("y2", cfg.y1)
    .attr("stroke", "#000").attr("stroke-width", 1.3));
  cfg.labels.forEach(v => label(g, 1112.5, y(v) + 4.5, cfg.fmt(v), 13, "end"));
  (cfg.last ? [45, 50, 55, 60, 65] : xt).forEach(v => label(g, hx(v), cfg.y1 + 16.5, String(v), 13, "middle"));
  allIdx.forEach(i => drawMarkers(g, sampleType[i], [[hx(sio2[i]), y(cfg.vals[i])]], 1));
  label(g, 1145, cfg.y0 + 29.5, cfg.fig, 14, "start");
  subLabel(g, 1073, (cfg.y0 + cfg.y1) / 2, cfg.title, 14, "middle", true);
}
harker({ y0: 106.3, y1: 414.1, domain: [0, 2], step: 0.5, majors: [0, 0.5, 1, 1.5, 2], outside: true, top: true,
  labels: [0, 0.5, 1, 1.5, 2], fmt: d3.format(".1f"), vals: tio2, fig: "Fig. 13", title: [["TiO", false], ["2", true]] });
harker({ y0: 414.1, y1: 721.6, domain: [0, 12], step: 1, majors: [0, 5, 10],
  labels: [0, 5, 10], fmt: String, vals: mgo, fig: "Fig. 14", title: [["MgO", false]] });
harker({ y0: 721.6, y1: 1031.1, domain: [0, 15], step: 1, majors: [0, 5, 10, 15], last: true,
  labels: [0, 5, 10], fmt: String, vals: cao, fig: "Fig. 15", title: [["CaO", false]] });
label(svg, 1340, 86, "Harker Diagrams", 14, "middle");
subLabel(svg, 1338, 1070, [["SiO", false], ["2", true]], 14, "middle");

// ---------------- legend ----------------
{
  const g = svg.append("g");
  label(g, 917, 499, "Megaclasts", 22.5, "start", "bold");
  const ly = d3.scaleLinear().domain([0, megaclastKeys.length - 1]).range([531, 833]);
  megaclastKeys.forEach((k, i) => {
    drawMarkers(g, k, [[922, ly(i)]], 1.9);
    label(g, 955, ly(i) + 7.2, k, 20.5, "start");
  });
  label(g, 917, 912, "Younger", 22.5, "start", "bold");
  label(g, 917, 939, "Volcanics", 22.5, "start", "bold");
  youngerKeys.forEach((k, i) => {
    const yy = 981 + i * 38;
    drawMarkers(g, k, [[922, yy]], 1.9);
    label(g, 955, yy + 7.2, youngerNames[i], 20.5, "start");
  });
}

// ---------------- notes ----------------
notes.forEach((t, i) => label(svg, 983, 1155 + i * 21.6, t, 17.5, "start"));
</script>
</body>
</html>
